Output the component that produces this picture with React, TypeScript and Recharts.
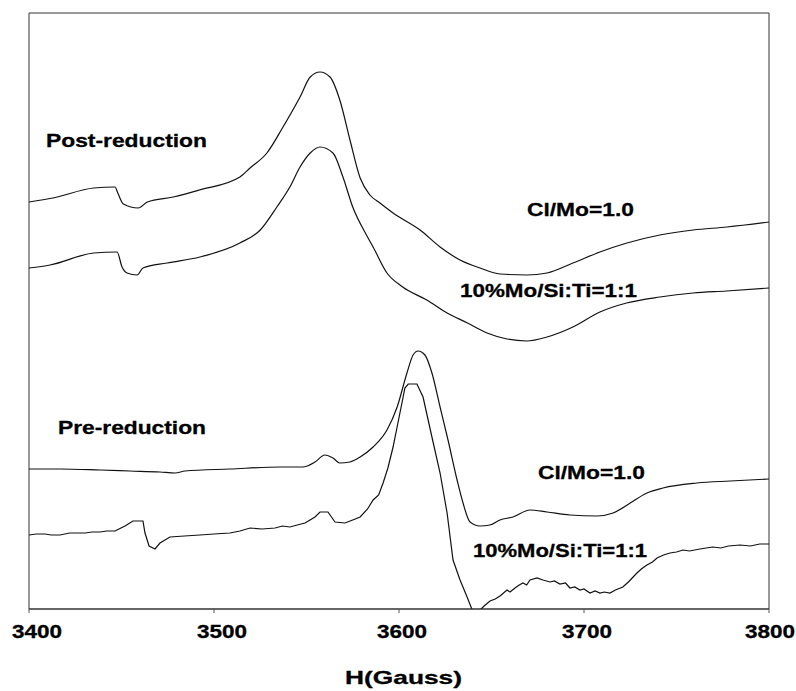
import React from 'react';
import { LineChart, Line, XAxis, YAxis, ReferenceArea } from 'recharts';

// EPR spectra, field in Gauss, signal in arbitrary units (traces stacked with offsets)
const fieldTicks = [3400, 3500, 3600, 3700, 3800];

// Post-reduction, Cl/Mo=1.0
const postClField = [3400, 3413, 3435, 3446.5, 3448, 3451, 3459, 3464, 3478, 3492, 3514, 3519.5, 3528.6, 3537.3, 3546.5, 3552, 3557.3, 3562.7, 3568, 3573.5, 3579, 3584.3, 3589.7, 3596.8, 3611.4, 3622.2, 3633, 3643.8, 3654.6, 3669.2, 3680, 3694, 3708.6, 3723.2, 3741, 3759, 3777.3, 3800];
const postClSignal = [407, 411, 421, 422, 416, 405, 401, 407, 412, 419, 432, 441, 456, 482, 512, 532, 537, 532, 509, 469, 431, 414, 406, 396, 379, 362, 349, 341, 335, 334, 336, 346, 357, 366, 374, 379, 382, 387];

// Post-reduction, 10%Mo/Si:Ti=1:1
const postMoField = [3400, 3411.4, 3435, 3447.6, 3450.3, 3453, 3458.4, 3461.6, 3474.6, 3492.4, 3514, 3525, 3534, 3541, 3546.5, 3552, 3557.3, 3564.3, 3569.7, 3575, 3582.7, 3586, 3593.5, 3602, 3615, 3626, 3637, 3647.6, 3658.4, 3669, 3680, 3694, 3708.6, 3723, 3741, 3759, 3777, 3800];
const postMoSignal = [341, 344, 356, 357, 342, 336, 334, 341, 346, 352, 366, 379, 402, 422, 442, 456, 462, 456, 432, 402, 373, 362, 336, 322, 309, 296, 286, 276, 270, 268, 272, 282, 297, 306, 312, 316, 318, 321];

// Pre-reduction, Cl/Mo=1.0
const preClField = [3400, 3416.8, 3438.4, 3454.6, 3470.8, 3479, 3484.3, 3508.6, 3535.7, 3548, 3554.6, 3559.9, 3564.3, 3568, 3573.5, 3579, 3586, 3593.5, 3599, 3604.3, 3607.6, 3610.3, 3614, 3617.8, 3622.2, 3626.5, 3631.4, 3634.6, 3638.4, 3643.8, 3649.2, 3654.6, 3661.6, 3670.8, 3680, 3692.4, 3707, 3715.7, 3725, 3734, 3742.7, 3761, 3779, 3800];
const preClSignal = [140, 140, 139, 138, 137, 136, 138, 140, 142, 142, 147, 154, 151, 146, 147, 152, 162, 179, 202, 236, 254, 258, 254, 236, 202, 169, 129, 106, 87, 83, 84, 89, 92, 99, 97, 94, 93, 96, 106, 116, 121, 126, 128, 130];

// Pre-reduction, 10%Mo/Si:Ti=1:1 (noisier trace)
const preMoField = [3400, 3404, 3408.6, 3412, 3416.8, 3422, 3430.3, 3434, 3438.4, 3442, 3446.5, 3451.9, 3456.2, 3461.6, 3462.7, 3464.9, 3468.1, 3470.8, 3476.2, 3484, 3492.4, 3500, 3508.6, 3514, 3519.5, 3526, 3533, 3537, 3541, 3545, 3549.2, 3554.6, 3557.3, 3561.6, 3565.4, 3570.8, 3575, 3579, 3583, 3586, 3589, 3591.4, 3594, 3596.8, 3600.5, 3603.2, 3605, 3609.7, 3613, 3617.8, 3622.2, 3626, 3629.2, 3633, 3636.8, 3640, 3642, 3643.8, 3646, 3649.2, 3652, 3654.6, 3658.4, 3660, 3662.7, 3665, 3667, 3669, 3670.8, 3674.6, 3677.8, 3681.6, 3684, 3687, 3690, 3692.4, 3695, 3697.8, 3700, 3703.2, 3706, 3708.6, 3711, 3714, 3717, 3721, 3724, 3728.6, 3731, 3734, 3737, 3739.5, 3743, 3746.5, 3750, 3753.5, 3757, 3762.7, 3766, 3769.7, 3774, 3778, 3784.3, 3790, 3795, 3800];
const preMoSignal = [74, 75, 75, 74, 74, 76, 76, 77, 77, 78, 78, 83, 88, 88, 76, 63, 60, 66, 72, 73, 74, 75, 76, 78, 81, 80, 81, 83, 82, 84, 86, 92, 97, 97, 87, 86, 89, 92, 100, 109, 114, 126, 141, 162, 196, 221, 225, 225, 212, 172, 136, 96, 49, 29, 12, -3, -7, -1, 3, 8, 10, 13, 19, 17, 21, 24, 26, 24, 29, 31, 29, 27, 28, 25, 26, 21, 22, 19, 20, 16, 18, 16, 17, 16, 19, 22, 27, 36, 40, 44, 47, 51, 54, 56, 57, 59, 58, 60, 61, 62, 61, 63, 64, 63, 65, 65];

const toPoints = (field: number[], signal: number[]) =>
  field.map((h, i) => ({ h, v: signal[i] }));

const series = [
  toPoints(postClField, postClSignal),
  toPoints(postMoField, postMoSignal),
  toPoints(preClField, preClSignal),
  toPoints(preMoField, preMoSignal),
];

const FONT = '"Liberation Sans", Arial, sans-serif';

// text annotations: [label, left x, baseline y, width]
const notes: [string, number, number, number][] = [
  ['Post-reduction', 46, 147, 161],
  ['Cl/Mo=1.0', 527, 216, 107],
  ['10%Mo/Si:Ti=1:1', 460, 297, 177],
  ['Pre-reduction', 58, 434, 148],
  ['Cl/Mo=1.0', 538, 479, 107],
  ['10%Mo/Si:Ti=1:1', 473, 557, 174],
];

// small horizontal nudges for the field labels
const tickNudge: Record<number, number> = { 3400: 8, 3500: 8, 3600: 3, 3700: 3, 3800: 1 };

const FieldTick = (props: any) => {
  const { x, payload } = props;
  return (
    <text x={x + (tickNudge[payload.value] ?? 0)} y={638} textAnchor="middle" fontFamily={FONT}
      fontWeight="bold" fontSize={18} fill="#000" stroke="#000" strokeWidth={0.3}
      textLength={50} lengthAdjust="spacingAndGlyphs">
      {payload.value}
    </text>
  );
};

const App: React.FC = () => {
  return (
    <div style={{ position: 'absolute', left: 0, top: 0, width: 796, height: 691, background: '#fff' }}>
      <LineChart width={796} height={691} margin={{ top: 13, right: 27, bottom: 0, left: 29 }}>
        <XAxis
          dataKey="h"
          type="number"
          domain={[3400, 3800]}
          ticks={fieldTicks}
          allowDataOverflow
          height={82}
          axisLine={{ stroke: '#333' }}
          tickLine={{ stroke: '#555' }}
          tickSize={4}
          tick={<FieldTick />}
        />
        <YAxis hide type="number" domain={[0, 596]} allowDataOverflow />
        <ReferenceArea x1={3400} x2={3800} y1={0} y2={596} fill="none" stroke="#333" strokeWidth={1} />
        {series.map((d, i) => (
          <Line
            key={i}
            data={d}
            dataKey="v"
            type={i === 3 ? 'linear' : 'monotone'}
            stroke="#111"
            strokeWidth={1.2}
            dot={false}
            isAnimationActive={false}
          />
        ))}
      </LineChart>
      <svg width={796} height={691} style={{ position: 'absolute', left: 0, top: 0, pointerEvents: 'none' }}>
        {notes.map(([t, x, y, w], i) => (
          <text key={i} x={x} y={y} fontFamily={FONT} fontWeight="bold" fontSize={19}
            fill="#000" stroke="#000" strokeWidth={0.3} textLength={w} lengthAdjust="spacingAndGlyphs">
            {t}
          </text>
        ))}
        <text x={345} y={684} fontFamily={FONT} fontWeight="bold" fontSize={19}
          fill="#000" stroke="#000" strokeWidth={0.3} textLength={117} lengthAdjust="spacingAndGlyphs">
          H(Gauss)
        </text>
      </svg>
    </div>
  );
};

export default App;
